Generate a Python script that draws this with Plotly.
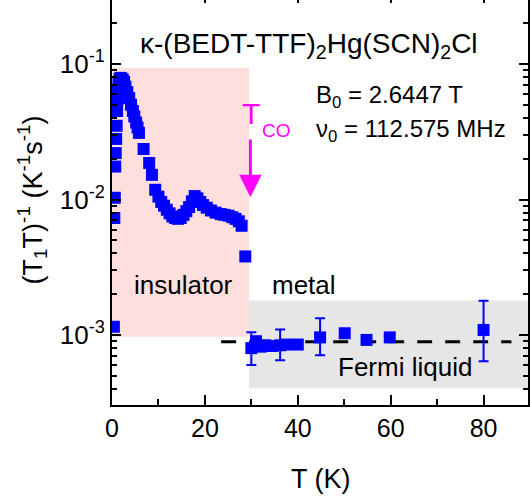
import numpy as np
import plotly.graph_objects as go

# ---- data ---------------------------------------------------------------
# insulating phase (dense sweep below T_CO)
T_ins = [0.4, 0.5, 0.6, 0.7, 0.8, 0.9, 1.0, 1.1, 1.2, 1.3, 1.4, 1.6, 1.8, 2.0,
         2.3, 2.6, 2.9, 3.3, 3.7, 4.1, 4.5, 4.8, 5.2, 5.5, 5.8, 6.8, 8.0, 8.6,
         9.3, 10.0, 10.6, 11.2, 11.8, 12.4, 13.0, 13.6, 14.2, 14.8, 15.4,
         16.0, 16.6, 17.2, 17.8, 18.4, 19.0, 19.6, 20.4, 21.3, 22.3, 23.4,
         24.2, 25.1, 25.9, 26.6, 27.3, 27.9, 28.7]
R_ins = [0.00115, 0.0073, 0.0103, 0.0175, 0.022, 0.028, 0.035, 0.045, 0.055,
         0.065, 0.072, 0.077, 0.079, 0.078, 0.077, 0.074, 0.068, 0.062, 0.056,
         0.050, 0.045, 0.041, 0.037, 0.034, 0.031, 0.0236, 0.0186, 0.0152,
         0.0118, 0.0105, 0.0096, 0.0090, 0.0084, 0.0079, 0.0075, 0.0073,
         0.0072, 0.0073, 0.0077, 0.0082, 0.0088, 0.0097, 0.0106, 0.0102,
         0.0096, 0.0091, 0.0087, 0.0083, 0.0080, 0.0078, 0.0077, 0.0076,
         0.0074, 0.0072, 0.0069, 0.0064, 0.0038]

# metallic phase
T_met = [30.0, 31.0, 32.0, 33.0, 34.5, 36.2, 37.5, 40.0, 44.8, 50.1, 54.8,
         59.8, 80.0]
R_met = [8.0e-4, 9.0e-4, 8.2e-4, 8.4e-4, 8.3e-4, 8.4e-4, 8.5e-4, 8.5e-4,
         9.6e-4, 1.03e-3, 9.2e-4, 9.6e-4, 1.09e-3]
err_up = [2.5e-4, 0, 0, 0, 0, 2.6e-4, 0, 0, 3.7e-4, 0, 0, 0, 7.0e-4]
err_dn = [2.0e-4, 0, 0, 0, 0, 1.9e-4, 0, 0, 2.5e-4, 0, 0, 0, 4.5e-4]

# y tick labels
y_tickvals = [1e-3, 1e-2, 1e-1]
y_ticktext = ["10<sup>-3</sup>", "10<sup>-2</sup>", "10<sup>-1</sup>"]

# Fermi-liquid constant and phase regions
fl_level = 8.9e-4
fl_T = [23.5, 86.0]
T_CO = 29.8
ins_box = dict(T=(0.0, 29.5), R=(9.7e-4, 0.094))
met_box = dict(T=(29.5, 90.0), R=(4.05e-4, 1.8e-3))
arrow_R = (0.0284, 0.0104)

# ---- geometry -----------------------------------------------------------
W, H = 530, 496
L, R, Tm, B = 112, 0, 0, 91
pw, ph = W - L - R, H - Tm - B


def px(xp):
    return (xp - L) / pw


def py(yp):
    return (H - B - yp) / ph


FONT = "Liberation Sans, Arial, sans-serif"
BLUE = "#0000FF"
MAG = "#FF00FF"

fig = go.Figure()

# shaded phase regions
fig.add_shape(type="rect", xref="x", yref="y",
              x0=ins_box["T"][0], x1=ins_box["T"][1],
              y0=ins_box["R"][0], y1=ins_box["R"][1],
              fillcolor="#FFDEDE", line_width=0, layer="below")
fig.add_shape(type="rect", xref="x", yref="y",
              x0=met_box["T"][0], x1=met_box["T"][1],
              y0=met_box["R"][0], y1=met_box["R"][1],
              fillcolor="#E6E6E6", line_width=0, layer="below")

# Fermi-liquid dashed line
fig.add_trace(go.Scatter(x=fl_T, y=[fl_level, fl_level], mode="lines",
                         line=dict(color="black", width=3, dash="15px,13px"),
                         showlegend=False, hoverinfo="skip"))

fig.add_trace(go.Scatter(x=T_ins, y=R_ins, mode="markers",
                         marker=dict(symbol="square", size=12, color=BLUE,
                                     line_width=0),
                         showlegend=False))
fig.add_trace(go.Scatter(x=T_met, y=R_met, mode="markers",
                         marker=dict(symbol="square", size=12, color=BLUE,
                                     line_width=0),
                         error_y=dict(type="data", symmetric=False,
                                      array=err_up, arrayminus=err_dn,
                                      color=BLUE, thickness=2, width=5),
                         showlegend=False))
# empty trace that carries the top tick axis
fig.add_trace(go.Scatter(x=[], y=[], xaxis="x2", yaxis="y",
                         showlegend=False, hoverinfo="skip"))

x_max = pw / 4.667
common = dict(linecolor="black", linewidth=2, tickcolor="black",
              tickwidth=2, showgrid=False, zeroline=False)

fig.update_layout(
    xaxis=dict(range=[0, x_max], tickmode="linear", tick0=0, dtick=20,
               showline=True, mirror=False, ticks="inside", ticklen=10,
               minor=dict(ticks="inside", ticklen=6, tickwidth=2,
                          tickcolor="black", dtick=10),
               tickfont=dict(family=FONT, size=25, color="black"), **common),
    xaxis2=dict(range=[0, x_max], overlaying="x", side="top", anchor="y",
                tickmode="linear", tick0=0, dtick=20, showline=False,
                ticks="inside", ticklen=3, showticklabels=False, **common),
    yaxis=dict(type="log", range=[-3.5166, -0.5277],
               tickmode="array", tickvals=y_tickvals, ticktext=y_ticktext,
               showline=True, mirror="ticks",
               ticks="inside", ticklen=9,
               minor=dict(ticks="inside", ticklen=5, tickwidth=2,
                          tickcolor="black", dtick="D1"),
               tickfont=dict(family=FONT, size=26, color="black"), **common),
)

ann = []


def text(s, xp, yp, size, color="black", xanchor="center", angle=0):
    ann.append(dict(text=s, x=px(xp), y=py(yp), xref="paper", yref="paper",
                    showarrow=False, xanchor=xanchor, yanchor="middle",
                    textangle=angle,
                    font=dict(family=FONT, size=size, color=color)))


text("T (K)", 322, 479, 27)
text("(T<sub>1</sub>T)<sup>-1</sup> (K<sup>-1</sup>s<sup>-1</sup>)", 32, 200,
     27, angle=-90)
text("κ-(BEDT-TTF)<sub>2</sub>Hg(SCN)<sub>2</sub>Cl", 138, 45, 28,
     xanchor="left")
text("B<sub>0</sub> = 2.6447 T", 315, 96, 24, xanchor="left")
text("ν<sub>0</sub> = 112.575 MHz", 315, 130, 24, xanchor="left")
text("insulator", 184, 285, 26)
text("metal", 305, 285, 26)
text("Fermi liquid", 406, 367, 26)
text("T", 252, 114, 30, color=MAG)
text("CO", 277, 130, 19, color=MAG)

# charge-order arrow
ann.append(dict(x=T_CO, y=np.log10(arrow_R[1]), ax=T_CO,
                ay=np.log10(arrow_R[0]), xref="x", yref="y", axref="x",
                ayref="y", text="", showarrow=True, arrowhead=2,
                arrowsize=1.5, arrowwidth=3, arrowcolor=MAG))

fig.update_layout(width=W, height=H,
                  margin=dict(l=L, r=R, t=Tm, b=B, pad=0),
                  paper_bgcolor="white", plot_bgcolor="white",
                  annotations=ann, showlegend=False,
                  font=dict(family=FONT, color="black"))

fig.write_html("out.html")
